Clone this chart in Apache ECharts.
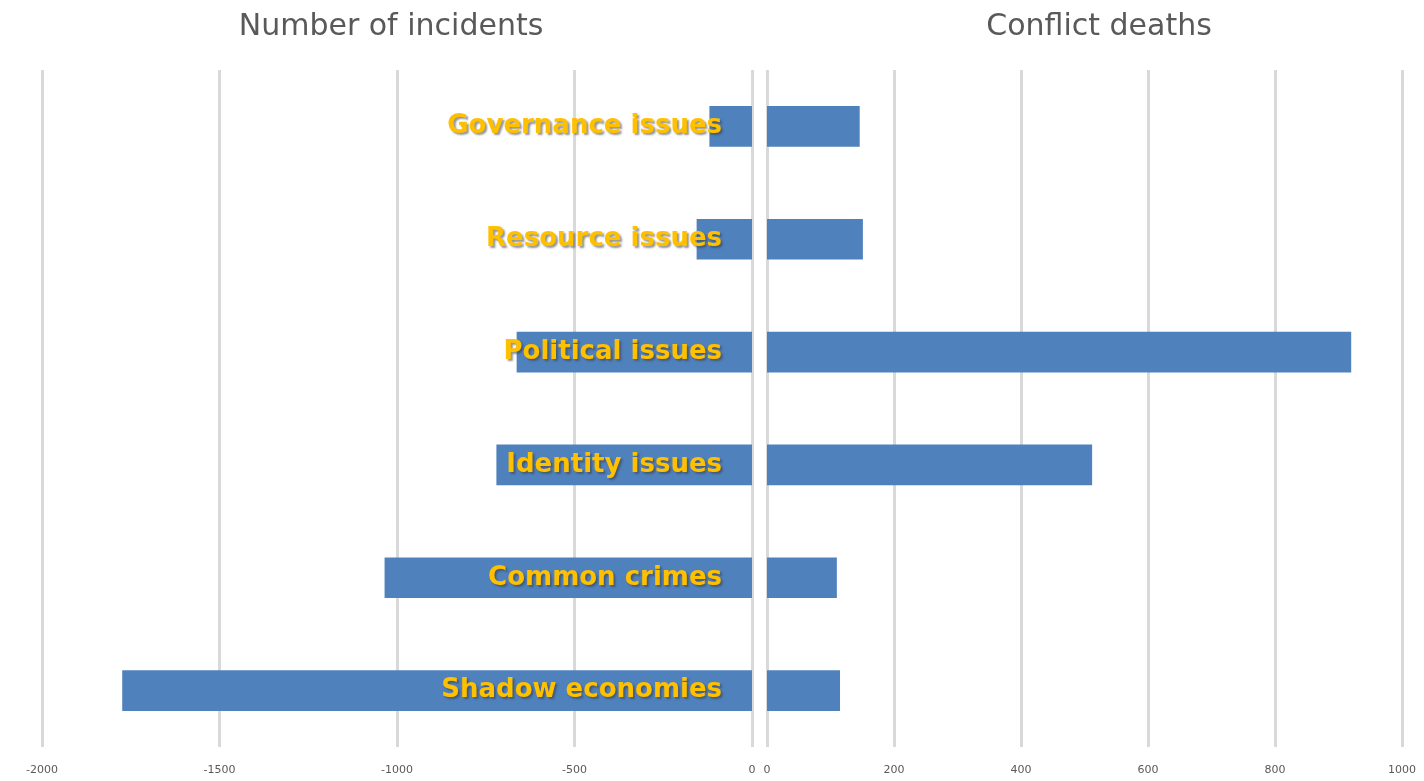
<!DOCTYPE html>
<html><head><meta charset="utf-8">
<script src="https://cdn.jsdelivr.net/npm/echarts@6/dist/echarts.min.js"></script>
<style>html,body{margin:0;padding:0;background:#fff}#c{width:1424px;height:781px}</style>
</head><body><div id="c"></div>
<script>
const categories = ['Governance issues','Resource issues','Political issues','Identity issues','Common crimes','Shadow economies'];
const incidents = [-120, -156, -663, -720, -1035, -1774];
const deaths = [146, 151, 920, 512, 110, 115];
const leftTitle = 'Number of incidents';
const rightTitle = 'Conflict deaths';

const chart = echarts.init(document.getElementById('c'));
const gridLine = {show:true, lineStyle:{color:'#d9d9d9', width:3}};
const tickLbl = {color:'#595959', fontSize:11, fontFamily:'DejaVu Sans', margin:18, formatter: v => String(v)};
const titleStyle = {color:'#595959', fontSize:30, fontWeight:'normal', fontFamily:'DejaVu Sans'};
chart.setOption({
  animation:false,
  title:[
    {text:leftTitle, left:386, top:7, textAlign:'center', textStyle:titleStyle},
    {text:rightTitle, left:1094, top:7, textAlign:'center', textStyle:titleStyle}
  ],
  grid:[
    {left:42, right:672, top:70, bottom:34},
    {left:767, right:22, top:70, bottom:34}
  ],
  xAxis:[
    {type:'value', gridIndex:0, min:-2000, max:0, interval:500, splitLine:gridLine, axisLine:{show:false}, axisTick:{show:false}, axisLabel:tickLbl},
    {type:'value', gridIndex:1, min:0, max:1000, interval:200, splitLine:gridLine, axisLine:{show:false}, axisTick:{show:false}, axisLabel:tickLbl}
  ],
  yAxis:[
    {type:'category', gridIndex:0, data:categories, inverse:true, position:'right',
     axisLine:{show:false}, axisTick:{show:false},
     axisLabel:{inside:true, margin:30, color:'#FFC000', fontSize:26, fontWeight:'bold', fontFamily:'DejaVu Sans',
       textShadowColor:'rgba(60,60,60,0.55)', textShadowBlur:2, textShadowOffsetX:2, textShadowOffsetY:2},
     z:10},
    {type:'category', gridIndex:1, data:categories, inverse:true, axisLine:{show:false}, axisTick:{show:false}, axisLabel:{show:false}}
  ],
  series:[
    {type:'bar', xAxisIndex:0, yAxisIndex:0, data:incidents, barWidth:'36%', itemStyle:{color:'#4F81BD'}, z:2},
    {type:'bar', xAxisIndex:1, yAxisIndex:1, data:deaths, barWidth:'36%', itemStyle:{color:'#4F81BD'}, z:2}
  ]
});
</script></body></html>
